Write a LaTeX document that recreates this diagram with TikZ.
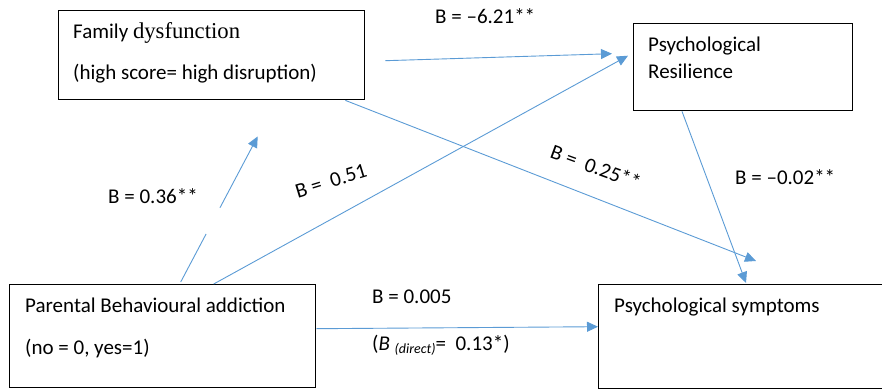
\documentclass[tikz,border=0pt]{standalone}
\usepackage{fontspec}
\setmainfont{Carlito}
\newfontfamily\dysfont[Scale=1.08]{Liberation Serif}
\usetikzlibrary{arrows.meta, calc, positioning}
\definecolor{linkblue}{RGB}{91,155,213}

\begin{document}
\begin{tikzpicture}[x=1pt, y=-1pt, box/.style={draw, line width=1.4pt, rectangle, anchor=north west, inner sep=0pt}, txt/.style={anchor=base west, inner sep=0pt, font=\fontsize{21}{25}\selectfont}, link/.style={draw=linkblue, line width=0.9pt, -{Triangle[length=11pt, width=10pt, fill=linkblue]}}]
            \useasboundingbox (0,0) rectangle (882,390);
            \clip (0,0) rectangle (882,390);
            % boxes
            \node[box, minimum width=306pt, minimum height=89pt] (fd) at (58,10) {};
            \node[box, minimum width=219pt, minimum height=87pt] (res) at (633,23) {};
            \node[box, minimum width=306pt, minimum height=103pt] (pba) at (9,284) {};
            \node[box, minimum width=300pt, minimum height=104pt] (sym) at (598,284) {};
            % box texts
            \node[txt] (fd1) at ($(fd.north west)+(15,29)$) {Family {\dysfont dysfunction}};
            \node[txt] (fd2) at ($(fd.north west)+(15,70)$) {(high score= high disruption)};
            \node[txt] (res1) at ($(res.north west)+(15,29)$) {Psychological};
            \node[txt] (res2) at ($(res.north west)+(15,56)$) {Resilience};
            \node[txt] (pba1) at ($(pba.north west)+(16,28)$) {Parental Behavioural addiction};
            \node[txt] (pba2) at ($(pba.north west)+(16,70)$) {(no = 0, yes=1)};
            \node[txt] (sym1) at ($(sym.north west)+(16,28)$) {Psychological symptoms};
            % end points
            \coordinate (fdout) at ($(fd.east)+(20,5.5)$);
            \coordinate (resin1) at ($(res.west)+(-21,-13.5)$);
            \coordinate (pbaup1) at ($(pba.north)+(18,-2)$);
            \coordinate (fdin) at ($(fd.south)+(46,36)$);
            \coordinate (pbaup2) at ($(pba.north)+(51,0)$);
            \coordinate (resin2) at ($(res.west)+(-5,-11.5)$);
            \coordinate (fddown) at ($(fd.south east)+(-20,0)$);
            \coordinate (symin1) at ($(sym.north west)+(158,-23)$);
            \coordinate (resdown) at ($(res.south west)+(49,0)$);
            \coordinate (symin2) at ($(sym.north west)+(148,-1)$);
            \coordinate (pbaright) at ($(pba.east)+(0,-7.5)$);
            \coordinate (symin3) at ($(sym.west)+(0,-10)$);
            % paths
            \draw[link] (fdout)--(resin1);
            \node[txt] (b1) at (435,24) {B = –6.21**};
            \draw[link, -] (pbaup1)--($(pbaup1)!0.33!(fdin)$);
            \draw[link] ($(pbaup1)!0.51!(fdin)$)--(fdin);
            \node[txt] (b2) at (108,203) {B = 0.36**};
            \draw[link] (pbaup2)--(resin2);
            \node[txt, anchor=center, rotate=17] (b3) at (331,181) {B =\ \ 0.51};
            \draw[link] (fddown)--(symin1);
            \node[txt, anchor=center, rotate=-20] (b4) at (596,167) {B =\ \ 0.25**};
            \draw[link] (resdown)--(symin2);
            \node[txt] (b5) at (735,184) {B = –0.02**};
            \draw[link] (pbaright)--(symin3);
            \node[txt] (b6) at (372,303) {B = 0.005};
            \node[txt] (b7) at (372,350) {(\textit{B} \raisebox{-3pt}{\fontsize{14}{16}\selectfont\textit{(direct)}}=\ \ 0.13*)};
        \end{tikzpicture}
\end{document}
